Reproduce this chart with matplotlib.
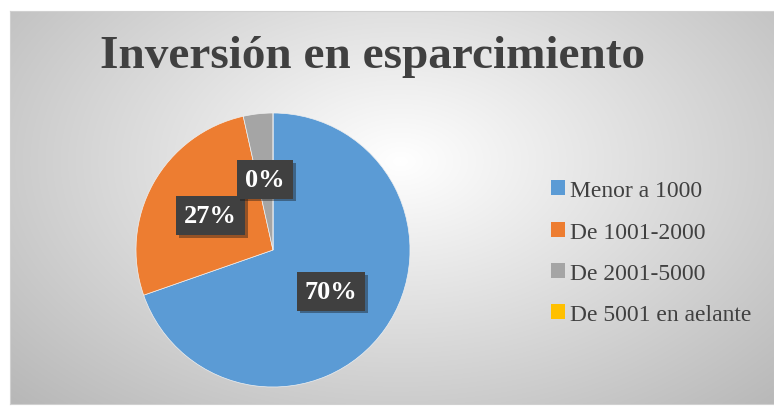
import numpy as np
import matplotlib
matplotlib.use("Agg")
import matplotlib.pyplot as plt
import matplotlib.patheffects as pe

categories = ["Menor a 1000", "De 1001-2000", "De 2001-5000", "De 5001 en aelante"]
values = [70, 27, 3.5, 0]
pct_labels = ["70%", "27%", "0%", ""]
colors = ["#5b9bd5", "#ed7d31", "#a5a5a5", "#ffc000"]

W, H = 774, 410
fig = plt.figure(figsize=(W / 100, H / 100), dpi=100)
fig.patch.set_facecolor("white")

# chart area with radial gradient background
bg = fig.add_axes([10 / W, 5 / H, 764 / W, 393 / H])
yy, xx = np.mgrid[0:393, 0:764]
d = np.sqrt(((xx - 390) / 520.0) ** 2 + ((yy - 150) / 330.0) ** 2)
shade = np.clip(1.0 - 0.27 * d, 0.72, 1.0)
bg.imshow(np.dstack([shade] * 3), aspect="auto", extent=[0, 1, 0, 1], origin="upper")
bg.set_xticks([])
bg.set_yticks([])
for s in bg.spines.values():
    s.set_color("#d0d0d0")
    s.set_linewidth(0.8)

fig.text(372 / W, 1 - 57 / H, "Inversión en esparcimiento", ha="center", va="center",
         fontsize=34, fontweight="bold", family="Liberation Serif", color="#404040")

# pie
r = 137
cx, cy = 273, 251
ax = fig.add_axes([(cx - r) / W, (H - cy - r) / H, 2 * r / W, 2 * r / H])
ax.set_facecolor("none")
wedges, _ = ax.pie(values, colors=colors, startangle=90, counterclock=False, radius=1,
                   wedgeprops=dict(linewidth=0.5, edgecolor="#f0f0f0"))
ax.set_xlim(-1, 1)
ax.set_ylim(-1, 1)
ax.set_aspect("equal")
ax.axis("off")

for w, lab in zip(wedges, pct_labels):
    if not lab:
        continue
    ang = np.deg2rad((w.theta1 + w.theta2) / 2)
    dist = 0.52
    t = ax.text(dist * np.cos(ang), dist * np.sin(ang), lab, ha="center", va="center",
                fontsize=19, fontweight="bold", family="Liberation Serif", color="white",
                bbox=dict(boxstyle="square,pad=0.3", fc="#404040", ec="none"))
    t.get_bbox_patch().set_path_effects([pe.SimplePatchShadow(offset=(2, -2), alpha=0.4), pe.Normal()])

leg = fig.legend(wedges, categories, loc="upper left", bbox_to_anchor=(530 / W, 1 - 160 / H),
                 frameon=False, prop=dict(family="Liberation Serif", size=17),
                 handlelength=0.6, handleheight=0.6, handletextpad=0.2, labelspacing=0.86,
                 labelcolor="#404040")
for h in leg.legend_handles:
    h.set_edgecolor("none")

fig.savefig("out.png", dpi=100)
